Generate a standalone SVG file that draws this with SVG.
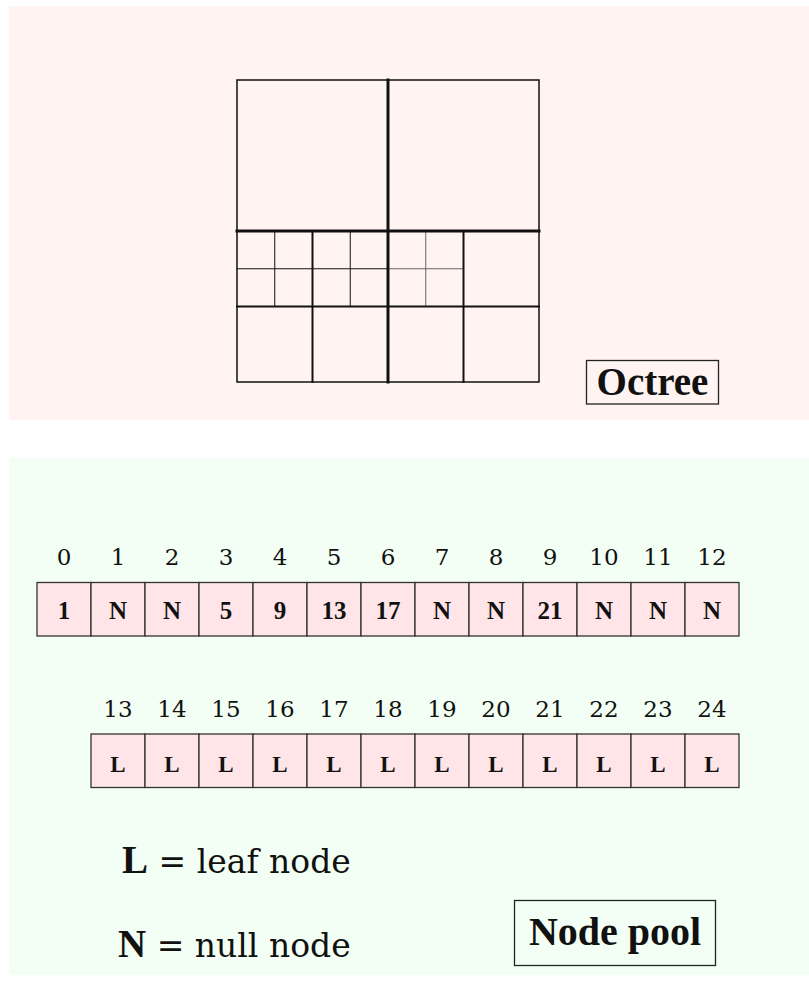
<svg xmlns="http://www.w3.org/2000/svg" width="809" height="985" viewBox="0 0 809 985">
<style>
.panel-top{fill:#fff4f2;}
.panel-bot{fill:#f3fff4;}
.oct{fill:none;stroke:#111;stroke-linecap:square;}
.w1{stroke-width:1;}
.w1g{stroke-width:1;stroke:#666;}
.w2{stroke-width:2;}
.w3{stroke-width:3;}
.cell{fill:#ffe5e7;stroke:#333;stroke-width:1.3;}
text{font-family:"Liberation Serif","Times New Roman",serif;fill:#111;}
.reg{font-family:"DejaVu Serif",serif;font-weight:normal;}
.idx{font-family:"DejaVu Serif",serif;font-size:23px;font-weight:normal;text-anchor:middle;}
.val{font-size:25px;font-weight:bold;text-anchor:middle;}
.val2{font-size:23px;font-weight:bold;text-anchor:middle;}
.lbl{fill:none;stroke:#222;stroke-width:1.3;}
.title{font-weight:bold;text-anchor:middle;}
.legend{font-size:39px;}
</style>
<rect class="panel-top" x="9" y="6" width="800" height="414"/>
<rect class="panel-bot" x="9" y="458" width="800" height="517"/>

<g id="octree">
  <rect class="oct" x="237" y="80" width="302" height="302" stroke-width="1.5"/>
  <line class="oct w1" x1="274.75" y1="231" x2="274.75" y2="306.5"/>
  <line class="oct w1" x1="350.25" y1="231" x2="350.25" y2="306.5"/>
  <line class="oct w1g" x1="425.75" y1="231" x2="425.75" y2="306.5"/>
  <line class="oct w1" x1="237" y1="268.75" x2="388" y2="268.75"/>
  <line class="oct w1g" x1="388" y1="268.75" x2="463.5" y2="268.75"/>
  <line class="oct w2" x1="312.5" y1="231" x2="312.5" y2="382"/>
  <line class="oct w2" x1="463.5" y1="231" x2="463.5" y2="382"/>
  <line class="oct w2" x1="237" y1="306.5" x2="539" y2="306.5"/>
  <line class="oct w3" x1="388" y1="80" x2="388" y2="382"/>
  <line class="oct w3" x1="237" y1="231" x2="539" y2="231"/>
</g>

<g id="octree-label">
  <rect class="lbl" x="586.5" y="360.5" width="132" height="43.5"/>
  <text class="title" x="652.5" y="395" font-size="39">Octree</text>
</g>

<g id="pool-row1">
  <g id="n0"><text class="idx" x="64" y="565">0</text><rect class="cell" x="37" y="582.5" width="54" height="53.5"/><text class="val" x="64" y="619">1</text></g>
  <g id="n1"><text class="idx" x="118" y="565">1</text><rect class="cell" x="91" y="582.5" width="54" height="53.5"/><text class="val" x="118" y="619">N</text></g>
  <g id="n2"><text class="idx" x="172" y="565">2</text><rect class="cell" x="145" y="582.5" width="54" height="53.5"/><text class="val" x="172" y="619">N</text></g>
  <g id="n3"><text class="idx" x="226" y="565">3</text><rect class="cell" x="199" y="582.5" width="54" height="53.5"/><text class="val" x="226" y="619">5</text></g>
  <g id="n4"><text class="idx" x="280" y="565">4</text><rect class="cell" x="253" y="582.5" width="54" height="53.5"/><text class="val" x="280" y="619">9</text></g>
  <g id="n5"><text class="idx" x="334" y="565">5</text><rect class="cell" x="307" y="582.5" width="54" height="53.5"/><text class="val" x="334" y="619">13</text></g>
  <g id="n6"><text class="idx" x="388" y="565">6</text><rect class="cell" x="361" y="582.5" width="54" height="53.5"/><text class="val" x="388" y="619">17</text></g>
  <g id="n7"><text class="idx" x="442" y="565">7</text><rect class="cell" x="415" y="582.5" width="54" height="53.5"/><text class="val" x="442" y="619">N</text></g>
  <g id="n8"><text class="idx" x="496" y="565">8</text><rect class="cell" x="469" y="582.5" width="54" height="53.5"/><text class="val" x="496" y="619">N</text></g>
  <g id="n9"><text class="idx" x="550" y="565">9</text><rect class="cell" x="523" y="582.5" width="54" height="53.5"/><text class="val" x="550" y="619">21</text></g>
  <g id="n10"><text class="idx" x="604" y="565">10</text><rect class="cell" x="577" y="582.5" width="54" height="53.5"/><text class="val" x="604" y="619">N</text></g>
  <g id="n11"><text class="idx" x="658" y="565">11</text><rect class="cell" x="631" y="582.5" width="54" height="53.5"/><text class="val" x="658" y="619">N</text></g>
  <g id="n12"><text class="idx" x="712" y="565">12</text><rect class="cell" x="685" y="582.5" width="54" height="53.5"/><text class="val" x="712" y="619">N</text></g>
</g>

<g id="pool-row2">
  <g id="n13"><text class="idx" x="118" y="717">13</text><rect class="cell" x="91" y="734" width="54" height="53.5"/><text class="val2" x="118" y="771.5">L</text></g>
  <g id="n14"><text class="idx" x="172" y="717">14</text><rect class="cell" x="145" y="734" width="54" height="53.5"/><text class="val2" x="172" y="771.5">L</text></g>
  <g id="n15"><text class="idx" x="226" y="717">15</text><rect class="cell" x="199" y="734" width="54" height="53.5"/><text class="val2" x="226" y="771.5">L</text></g>
  <g id="n16"><text class="idx" x="280" y="717">16</text><rect class="cell" x="253" y="734" width="54" height="53.5"/><text class="val2" x="280" y="771.5">L</text></g>
  <g id="n17"><text class="idx" x="334" y="717">17</text><rect class="cell" x="307" y="734" width="54" height="53.5"/><text class="val2" x="334" y="771.5">L</text></g>
  <g id="n18"><text class="idx" x="388" y="717">18</text><rect class="cell" x="361" y="734" width="54" height="53.5"/><text class="val2" x="388" y="771.5">L</text></g>
  <g id="n19"><text class="idx" x="442" y="717">19</text><rect class="cell" x="415" y="734" width="54" height="53.5"/><text class="val2" x="442" y="771.5">L</text></g>
  <g id="n20"><text class="idx" x="496" y="717">20</text><rect class="cell" x="469" y="734" width="54" height="53.5"/><text class="val2" x="496" y="771.5">L</text></g>
  <g id="n21"><text class="idx" x="550" y="717">21</text><rect class="cell" x="523" y="734" width="54" height="53.5"/><text class="val2" x="550" y="771.5">L</text></g>
  <g id="n22"><text class="idx" x="604" y="717">22</text><rect class="cell" x="577" y="734" width="54" height="53.5"/><text class="val2" x="604" y="771.5">L</text></g>
  <g id="n23"><text class="idx" x="658" y="717">23</text><rect class="cell" x="631" y="734" width="54" height="53.5"/><text class="val2" x="658" y="771.5">L</text></g>
  <g id="n24"><text class="idx" x="712" y="717">24</text><rect class="cell" x="685" y="734" width="54" height="53.5"/><text class="val2" x="712" y="771.5">L</text></g>
</g>

<g id="legend">
  <text class="legend" x="122" y="873"><tspan font-weight="bold">L</tspan><tspan class="reg" font-size="33"> = leaf node</tspan></text>
  <text class="legend" x="118" y="957"><tspan font-weight="bold">N</tspan><tspan class="reg" font-size="33"> = null node</tspan></text>
</g>

<g id="pool-label">
  <rect class="lbl" x="514.5" y="900.5" width="201" height="65"/>
  <text class="title" x="615" y="945" font-size="40">Node pool</text>
</g>

<g id="connectors"></g>
</svg>
